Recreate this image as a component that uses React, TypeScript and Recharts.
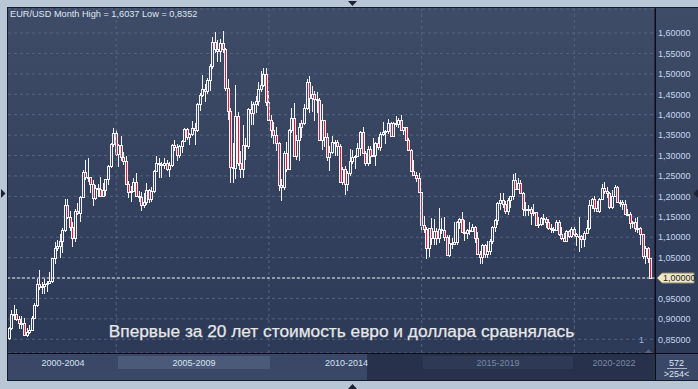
import React from 'react';
import { ComposedChart, Bar, XAxis, YAxis, CartesianGrid, ReferenceLine } from 'recharts';

// ---------- data (monthly EUR/USD, Jul 2001 – Jul 2022) ----------
const START_YEAR = 2001;
const START_MONTH = 7;
const FIRST_OPEN = 0.852;

const CLOSES = [
  0.8770, 0.9120, 0.9110, 0.9000, 0.8900, 0.8900,
  0.8610, 0.8690, 0.8720, 0.9020, 0.9330, 0.9860, 0.9780, 0.9800, 0.9860, 0.9880, 0.9930, 1.0490,
  1.0730, 1.0780, 1.0910, 1.1180, 1.1800, 1.1500, 1.1240, 1.0990, 1.1650, 1.1590, 1.1990, 1.2590,
  1.2480, 1.2470, 1.2300, 1.1960, 1.2200, 1.2170, 1.2020, 1.2160, 1.2420, 1.2750, 1.3270, 1.3560,
  1.3040, 1.3250, 1.2960, 1.2870, 1.2300, 1.2100, 1.2130, 1.2340, 1.2020, 1.1990, 1.1790, 1.1850,
  1.2150, 1.1930, 1.2120, 1.2620, 1.2820, 1.2790, 1.2760, 1.2810, 1.2680, 1.2760, 1.3250, 1.3200,
  1.3020, 1.3230, 1.3360, 1.3650, 1.3450, 1.3530, 1.3680, 1.3630, 1.4260, 1.4480, 1.4630, 1.4590,
  1.4860, 1.5180, 1.5790, 1.5600, 1.5550, 1.5750, 1.5600, 1.4660, 1.4090, 1.2730, 1.2700, 1.3970,
  1.2810, 1.2670, 1.3250, 1.3240, 1.4150, 1.4030, 1.4250, 1.4330, 1.4640, 1.4720, 1.5000, 1.4320,
  1.3870, 1.3630, 1.3510, 1.3300, 1.2290, 1.2230, 1.3050, 1.2680, 1.3630, 1.3930, 1.2980, 1.3380,
  1.3690, 1.3800, 1.4170, 1.4810, 1.4400, 1.4500, 1.4390, 1.4370, 1.3390, 1.3860, 1.3450, 1.2960,
  1.3080, 1.3340, 1.3340, 1.3240, 1.2360, 1.2660, 1.2300, 1.2580, 1.2860, 1.2960, 1.2990, 1.3190,
  1.3580, 1.3060, 1.2820, 1.3170, 1.2990, 1.3010, 1.3300, 1.3220, 1.3530, 1.3580, 1.3590, 1.3790,
  1.3490, 1.3800, 1.3770, 1.3870, 1.3630, 1.3690, 1.3390, 1.3130, 1.2630, 1.2520, 1.2450, 1.2100,
  1.1290, 1.1200, 1.0730, 1.1220, 1.0990, 1.1150, 1.0980, 1.1210, 1.1180, 1.1000, 1.0570, 1.0860,
  1.0830, 1.0870, 1.1380, 1.1450, 1.1130, 1.1100, 1.1170, 1.1160, 1.1240, 1.0980, 1.0590, 1.0520,
  1.0800, 1.0580, 1.0650, 1.0900, 1.1240, 1.1430, 1.1840, 1.1910, 1.1810, 1.1650, 1.1900, 1.2000,
  1.2410, 1.2190, 1.2320, 1.2080, 1.1690, 1.1680, 1.1690, 1.1600, 1.1610, 1.1310, 1.1320, 1.1470,
  1.1450, 1.1370, 1.1220, 1.1210, 1.1170, 1.1370, 1.1080, 1.0990, 1.0900, 1.1150, 1.1020, 1.1210,
  1.1090, 1.1030, 1.1030, 1.0950, 1.1100, 1.1230, 1.1780, 1.1940, 1.1720, 1.1650, 1.1930, 1.2210,
  1.2130, 1.2070, 1.1730, 1.2020, 1.2230, 1.1860, 1.1870, 1.1810, 1.1580, 1.1560, 1.1340, 1.1370,
  1.1230, 1.1220, 1.1070, 1.0540, 1.0730, 1.0480, 1.0000,
];

const HIGHS = [
  0.8810, 0.9220, 0.9330, 0.9240, 0.9080, 0.9070,
  0.9030, 0.8780, 0.8850, 0.9060, 0.9390, 0.9970, 1.0200, 0.9900, 0.9970, 0.9930, 1.0140, 1.0500,
  1.0870, 1.0940, 1.1080, 1.1230, 1.1930, 1.1930, 1.1650, 1.1360, 1.1680, 1.1840, 1.2010, 1.2650,
  1.2900, 1.2930, 1.2480, 1.2390, 1.2270, 1.2300, 1.2470, 1.2320, 1.2420, 1.2780, 1.3300, 1.3670,
  1.3620, 1.3290, 1.3480, 1.3090, 1.2980, 1.2380, 1.2260, 1.2450, 1.2580, 1.2130, 1.2110, 1.2090,
  1.2320, 1.2190, 1.2240, 1.2650, 1.2980, 1.2950, 1.2830, 1.2930, 1.2880, 1.2830, 1.3270, 1.3370,
  1.3270, 1.3260, 1.3380, 1.3680, 1.3680, 1.3540, 1.3850, 1.3790, 1.4280, 1.4530, 1.4970, 1.4750,
  1.4900, 1.5240, 1.5900, 1.6020, 1.5820, 1.5850, 1.6038, 1.5640, 1.4870, 1.4170, 1.3300, 1.4720,
  1.4070, 1.3100, 1.3740, 1.3430, 1.4170, 1.4340, 1.4310, 1.4450, 1.4790, 1.5060, 1.5140, 1.5140,
  1.4580, 1.3990, 1.3820, 1.3690, 1.3320, 1.2420, 1.3110, 1.3330, 1.3650, 1.4160, 1.4280, 1.3500,
  1.3800, 1.3860, 1.4250, 1.4880, 1.4940, 1.4700, 1.4580, 1.4550, 1.4400, 1.4250, 1.3870, 1.3550,
  1.3230, 1.3490, 1.3390, 1.3380, 1.3280, 1.2730, 1.2740, 1.2630, 1.3170, 1.3140, 1.3010, 1.3310,
  1.3590, 1.3710, 1.3110, 1.3240, 1.3240, 1.3420, 1.3340, 1.3450, 1.3570, 1.3830, 1.3620, 1.3890,
  1.3830, 1.3830, 1.3970, 1.3910, 1.3990, 1.3700, 1.3700, 1.3440, 1.3150, 1.2890, 1.2600, 1.2570,
  1.2110, 1.1530, 1.1240, 1.1220, 1.1470, 1.1440, 1.1220, 1.1710, 1.1460, 1.1500, 1.1050, 1.1060,
  1.0990, 1.1380, 1.1400, 1.1460, 1.1620, 1.1430, 1.1190, 1.1370, 1.1330, 1.1270, 1.1120, 1.0670,
  1.0830, 1.0830, 1.0900, 1.0950, 1.1270, 1.1440, 1.1850, 1.2070, 1.2090, 1.1880, 1.1960, 1.2020,
  1.2540, 1.2560, 1.2450, 1.2410, 1.2100, 1.1850, 1.1790, 1.1740, 1.1820, 1.1620, 1.1500, 1.1490,
  1.1570, 1.1490, 1.1450, 1.1320, 1.1260, 1.1410, 1.1410, 1.1250, 1.1110, 1.1180, 1.1180, 1.1240,
  1.1240, 1.1100, 1.1500, 1.1050, 1.1150, 1.1420, 1.1910, 1.1970, 1.2010, 1.1880, 1.1960, 1.2310,
  1.2350, 1.2240, 1.2110, 1.2150, 1.2270, 1.2250, 1.1900, 1.1900, 1.1910, 1.1690, 1.1610, 1.1390,
  1.1480, 1.1500, 1.1240, 1.1080, 1.0790, 1.0770, 1.0480,
];

const LOWS = [
  0.8480, 0.8730, 0.8960, 0.8950, 0.8750, 0.8750,
  0.8570, 0.8560, 0.8640, 0.8700, 0.8990, 0.9300, 0.9700, 0.9600, 0.9620, 0.9660, 0.9850, 0.9870,
  1.0340, 1.0670, 1.0500, 1.0620, 1.1130, 1.1440, 1.1140, 1.0760, 1.0880, 1.1550, 1.1380, 1.1960,
  1.2400, 1.2350, 1.2080, 1.1760, 1.1900, 1.1980, 1.1990, 1.2000, 1.2010, 1.2270, 1.2700, 1.3200,
  1.2980, 1.2730, 1.2870, 1.2760, 1.2280, 1.1960, 1.1870, 1.2110, 1.2000, 1.1870, 1.1640, 1.1710,
  1.1800, 1.1830, 1.1860, 1.2080, 1.2600, 1.2460, 1.2460, 1.2660, 1.2620, 1.2480, 1.2720, 1.3100,
  1.2860, 1.2930, 1.3070, 1.3330, 1.3380, 1.3260, 1.3480, 1.3260, 1.3580, 1.4090, 1.4430, 1.4300,
  1.4500, 1.4580, 1.5130, 1.5500, 1.5280, 1.5300, 1.5500, 1.4580, 1.3880, 1.2330, 1.2330, 1.2420,
  1.2750, 1.2460, 1.2460, 1.2890, 1.3170, 1.3750, 1.3750, 1.4050, 1.4210, 1.4560, 1.4670, 1.4220,
  1.3860, 1.3440, 1.3270, 1.3110, 1.2140, 1.1880, 1.2150, 1.2590, 1.2650, 1.3540, 1.2970, 1.2900,
  1.2870, 1.3430, 1.3750, 1.4110, 1.4050, 1.4070, 1.3840, 1.4050, 1.3360, 1.3140, 1.3220, 1.2860,
  1.2620, 1.3040, 1.2980, 1.3000, 1.2350, 1.2290, 1.2040, 1.2130, 1.2500, 1.2800, 1.2660, 1.2960,
  1.3000, 1.3030, 1.2750, 1.2740, 1.2790, 1.2960, 1.2750, 1.3140, 1.3100, 1.3480, 1.3290, 1.3530,
  1.3480, 1.3470, 1.3700, 1.3670, 1.3600, 1.3500, 1.3380, 1.3110, 1.2620, 1.2500, 1.2360, 1.2080,
  1.1100, 1.1100, 1.0460, 1.0520, 1.0820, 1.0820, 1.0810, 1.0850, 1.1090, 1.0900, 1.0560, 1.0520,
  1.0710, 1.0820, 1.0820, 1.1210, 1.1100, 1.0910, 1.0950, 1.1050, 1.1120, 1.0850, 1.0570, 1.0340,
  1.0340, 1.0490, 1.0490, 1.0570, 1.0840, 1.1120, 1.1310, 1.1660, 1.1720, 1.1570, 1.1550, 1.1720,
  1.1920, 1.2150, 1.2150, 1.2060, 1.1510, 1.1510, 1.1510, 1.1300, 1.1530, 1.1300, 1.1220, 1.1270,
  1.1290, 1.1230, 1.1180, 1.1110, 1.1110, 1.1160, 1.1020, 1.0930, 1.0880, 1.0880, 1.0980, 1.0980,
  1.0990, 1.0780, 1.0640, 1.0730, 1.0770, 1.1080, 1.1180, 1.1700, 1.1610, 1.1610, 1.1600, 1.1920,
  1.2060, 1.1950, 1.1700, 1.1700, 1.1990, 1.1850, 1.1750, 1.1660, 1.1560, 1.1520, 1.1190, 1.1220,
  1.1120, 1.1100, 1.0810, 1.0470, 1.0350, 1.0360, 0.9998,
];

const Y_TICKS = [0.85, 0.9, 0.95, 1.0, 1.05, 1.1, 1.15, 1.2, 1.25, 1.3, 1.35, 1.4, 1.45, 1.5, 1.55, 1.6];
const Y_DOMAIN: [number, number] = [0.8164, 1.6588];
const GRID_MONTHS = ['2005-01', '2010-01', '2015-01', '2020-01'];
const PERIOD_LABELS = ['2000-2004', '2005-2009', '2010-2014', '2015-2019', '2020-2022'];
const PARITY = 1.0;
const TITLE = 'EUR/USD Month High = 1,6037 Low = 0,8352';
const CAPTION = 'Впервые за 20 лет стоимость евро и доллара сравнялась';
const BARS_TOTAL = '572';
const BARS_VISIBLE = '>254<';

// month category labels
const MONTHS = CLOSES.map((_, i) => {
  const m = START_MONTH - 1 + i;
  return `${START_YEAR + Math.floor(m / 12)}-${String((m % 12) + 1).padStart(2, '0')}`;
});

const data = MONTHS.map((month, i) => ({
  month,
  open: i === 0 ? FIRST_OPEN : CLOSES[i - 1],
  high: HIGHS[i],
  low: LOWS[i],
  close: CLOSES[i],
}));

// ---------- styles ----------
const W = 698;
const H = 389;
const FONT = '"Liberation Sans", Arial, sans-serif';
const EDGE = '#f4f4f4';
const RED = '#e3183e';
const FRAME = '#b9c6d6';
const GRID = '#56637f';
const TICK_COLOR = '#c4d6ee';

// period band edges (chrome)
const BAND_EDGES = [8, 118, 270, 423, 573, 655];

const fmt = (v: number) => v.toFixed(5).replace('.', ',');

const Candle = (props: any) => {
  const { x, y, width, height, payload } = props;
  if (x == null || payload == null || !isFinite(y) || !isFinite(height)) return null;
  const { open, close, high, low } = payload;
  const top = Math.min(y, y + height);
  const span = Math.abs(height);
  const ppu = span / (high - low);
  const toY = (v: number) => top + (high - v) * ppu;
  const cx = x + width / 2;
  const left = Math.round(cx - 1.5);
  const yH = Math.round(toY(high));
  const yL = Math.round(toY(low));
  const yO = toY(open);
  const yC = toY(close);
  const bTop = Math.round(Math.min(yO, yC));
  const bBot = Math.round(Math.max(yO, yC));
  const down = close < open;
  const wx = left + 1.5;
  return (
    <g>
      {bTop > yH && <line x1={wx} x2={wx} y1={yH} y2={bTop} stroke={EDGE} strokeWidth={1} />}
      {yL > bBot && <line x1={wx} x2={wx} y1={bBot} y2={yL} stroke={EDGE} strokeWidth={1} />}
      <rect
        x={left + 0.5}
        y={bTop + 0.5}
        width={2}
        height={Math.max(bBot - bTop, 1)}
        fill={down ? RED : 'none'}
        stroke={EDGE}
        strokeWidth={1}
      />
    </g>
  );
};

const YTick = (props: any) => {
  const { x, y, payload } = props;
  const v = payload.value as number;
  if (Math.abs(v - PARITY) < 1e-9) {
    const x0 = x - 1;
    return (
      <g>
        <polygon
          points={`${x0},${y} ${x0 + 5},${y - 5} ${x0 + 37},${y - 5} ${x0 + 37},${y + 5} ${x0 + 5},${y + 5}`}
          fill="#efe8c6"
          stroke="#8f8a6e"
          strokeWidth={1}
        />
        <text x={x0 + 6} y={y + 3.3} fontSize={9} fontFamily={FONT} fill="#1c1c1c">
          {fmt(v)}
        </text>
      </g>
    );
  }
  return (
    <text x={x} y={y + 3.3} fontSize={9} fontFamily={FONT} fill={TICK_COLOR} textAnchor="start">
      {fmt(v)}
    </text>
  );
};

export default function App() {
  return (
    <div style={{ position: 'fixed', left: 0, top: 0, width: W, height: H, overflow: 'hidden', background: FRAME, fontFamily: FONT }}>
      {/* background chrome */}
      <div style={{ position: 'absolute', left: 7, top: 7, width: 691, height: 374, background: '#161c29' }} />
      <div style={{ position: 'absolute', left: 8, top: 8, width: 647, height: 345, background: 'linear-gradient(#3f4c67, #2c3957)' }} />
      <div style={{ position: 'absolute', left: 656, top: 8, width: 42, height: 345, background: 'linear-gradient(#3f4c67, #2c3957)' }} />
      <div style={{ position: 'absolute', left: 8, top: 354, width: 359, height: 26, background: '#3a4766' }} />
      <div style={{ position: 'absolute', left: 367, top: 354, width: 288, height: 26, background: '#27314c' }} />
      <div style={{ position: 'absolute', left: BAND_EDGES[1], top: 356, width: BAND_EDGES[2] - BAND_EDGES[1], height: 13, background: '#4b5a78' }} />
      <div style={{ position: 'absolute', left: BAND_EDGES[3], top: 356, width: BAND_EDGES[4] - BAND_EDGES[3], height: 13, background: '#2d3955' }} />
      <div style={{ position: 'absolute', left: 656, top: 354, width: 42, height: 26, background: '#3a4766' }} />

      <div style={{ position: 'absolute', left: 0, top: 0 }}>
        <ComposedChart width={W} height={H} data={data} margin={{ top: 9, right: 0, bottom: 36, left: 8 }} barCategoryGap="10%">
          <CartesianGrid vertical={false} stroke={GRID} strokeDasharray="3 3" />
          <XAxis dataKey="month" hide padding={{ left: 0, right: 3 }} />
          <YAxis
            orientation="right"
            width={43}
            domain={Y_DOMAIN}
            allowDataOverflow
            ticks={Y_TICKS}
            interval={0}
            tickLine={false}
            tickSize={0}
            tickMargin={3}
            axisLine={{ stroke: '#0b0e16', strokeWidth: 1 }}
            tick={<YTick />}
          />
          {GRID_MONTHS.map((m) => (
            <ReferenceLine key={m} x={m} stroke={GRID} strokeDasharray="3 3" />
          ))}
          <ReferenceLine y={PARITY} stroke="#e8e8e8" strokeDasharray="3 2" />
          <Bar dataKey={(d: any) => [d.low, d.high]} shape={<Candle />} isAnimationActive={false} />
        </ComposedChart>
      </div>

      {/* overlay chrome & text */}
      <svg width={W} height={H} style={{ position: 'absolute', left: 0, top: 0, pointerEvents: 'none' }}>
        <line x1={8} x2={W} y1={353.5} y2={353.5} stroke="#0b0e16" />
        <line x1={655.5} x2={655.5} y1={8} y2={380} stroke="#0b0e16" />
        <text x={10} y={17} fontSize={9.2} fontFamily={FONT} fill="#dfe7f2">{TITLE}</text>
        <text x={341.5} y={337} fontSize={17.3} fontFamily={FONT} fill="#e8e8e8" stroke="#e8e8e8" strokeWidth={0.25} textAnchor="middle">{CAPTION}</text>
        {PERIOD_LABELS.map((lab, i) => (
          <text
            key={lab}
            x={(BAND_EDGES[i] + BAND_EDGES[i + 1]) / 2}
            y={366}
            fontSize={9}
            fontFamily={FONT}
            fill={i < 3 ? '#d6e2f2' : '#7a88a2'}
            textAnchor="middle"
          >
            {lab}
          </text>
        ))}
        <text x={676.5} y={366} fontSize={9} fontFamily={FONT} fill="#dce6f4" textAnchor="middle">{BARS_TOTAL}</text>
        <line x1={667} x2={687} y1={368.5} y2={368.5} stroke="#a8b6cc" />
        <text x={676.5} y={377} fontSize={9} fontFamily={FONT} fill="#dce6f4" textAnchor="middle">{BARS_VISIBLE}</text>
        <text x={639} y={343} fontSize={9} fontFamily={FONT} fill="#9ab8e0">1</text>
        <polygon points="645,353 648.5,349 652,353" fill="#55627c" />
        {/* scroll arrows */}
        <polygon points="348,1 357,1 352.5,6" fill="#1a2233" />
        <polygon points="348,389 357,389 352.5,384" fill="#1a2233" />
        <polygon points="1,189 1,198 5.5,193.5" fill="#1a2233" />
        <polygon points="698,189 698,198 693.5,193.5" fill="#1a2233" />
      </svg>
    </div>
  );
}
